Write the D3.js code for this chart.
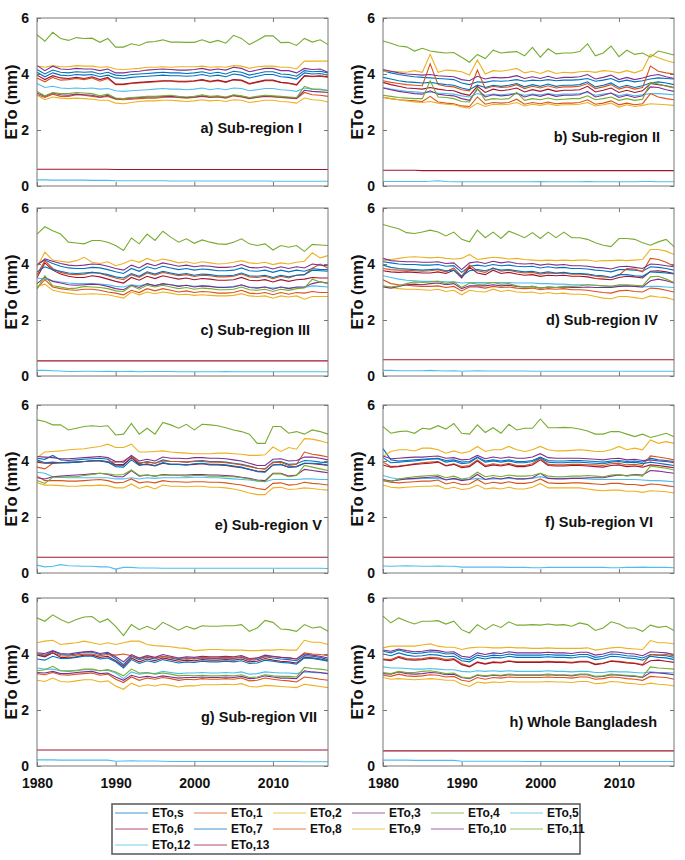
<!DOCTYPE html>
<html><head><meta charset="utf-8">
<script src="https://cdn.jsdelivr.net/npm/d3@7"></script>
<style>body{margin:0;background:#fff}svg{display:block;font-family:"Liberation Sans",Arial,sans-serif}</style>
</head><body>
<svg width="685" height="860"></svg>
<script>
// ETo in 1/100 mm, one row per series: ETo,s then ETo,1 .. ETo,13, years 1980-2017
const years=[1980,1981,1982,1983,1984,1985,1986,1987,1988,1989,1990,1991,1992,1993,1994,1995,1996,1997,1998,1999,2000,2001,2002,2003,2004,2005,2006,2007,2008,2009,2010,2011,2012,2013,2014,2015,2016,2017]
const seriesNames=["ETo,s","ETo,1","ETo,2","ETo,3","ETo,4","ETo,5","ETo,6","ETo,7","ETo,8","ETo,9","ETo,10","ETo,11","ETo,12","ETo,13"]
const panelTitles=["a) Sub-region I","b) Sub-region II","c) Sub-region III","d) Sub-region IV","e) Sub-region V","f) Sub-region VI","g) Sub-region VII","h) Whole Bangladesh"]
const yTicks=[0,2,4,6]
const xTicks=[1980,1990,2000,2010]

const subRegionI=[
[416,400,414,406,404,408,406,408,400,406,396,394,398,400,402,404,406,404,404,402,404,408,402,406,400,410,406,396,402,408,408,400,398,392,412,408,410,404],
[386,372,388,378,380,384,380,386,374,384,362,362,366,368,370,372,374,374,372,372,374,378,372,376,370,380,376,364,370,376,376,370,366,360,392,390,392,388],
[428,424,430,426,426,430,428,428,424,426,418,416,418,420,424,424,426,424,426,426,426,428,424,426,424,430,428,420,426,428,428,424,424,418,446,446,446,446],
[430,412,428,418,416,420,418,418,412,418,404,404,408,410,414,416,418,416,414,414,416,420,414,418,414,424,420,408,414,420,420,412,412,404,420,416,418,406],
[540,517,549,527,520,530,527,528,513,527,496,496,508,502,514,516,522,514,514,513,513,522,512,520,510,538,527,505,520,536,536,512,513,502,527,514,522,505],
[366,352,356,350,348,350,348,350,346,348,340,338,340,342,344,346,348,346,346,344,346,350,344,348,344,350,348,340,344,348,348,344,342,338,350,346,346,342],
[396,380,394,386,384,388,384,390,380,388,364,364,368,370,372,374,376,376,374,374,376,380,374,378,372,380,378,366,372,378,378,370,368,362,394,392,394,390],
[406,390,404,396,394,398,396,398,390,396,386,384,388,390,392,394,396,394,394,392,394,398,392,396,390,400,396,386,392,398,398,390,388,382,404,400,402,396],
[326,316,328,320,320,326,324,320,316,320,310,308,310,312,314,314,316,318,316,314,316,320,316,318,314,322,318,312,316,320,318,316,314,312,334,326,324,320],
[324,308,318,314,312,314,312,310,306,306,296,294,298,302,304,304,306,306,304,302,304,308,304,306,302,308,306,298,302,306,306,302,300,296,314,308,306,300],
[332,320,332,326,324,328,326,324,318,324,312,312,314,316,318,318,320,320,318,316,318,322,318,320,316,324,320,314,318,322,320,318,316,314,342,338,336,334],
[338,322,334,330,330,334,332,330,322,328,314,312,316,318,320,320,322,324,320,318,320,326,320,322,318,326,322,316,320,324,322,320,318,316,356,346,344,340],
[22,22,21,21,21,21,21,20,20,20,19,19,19,19,19,19,19,18,18,18,18,18,18,18,18,18,18,18,18,18,17,17,17,17,17,17,17,17],
[60,60,60,60,60,60,60,60,60,60,59,59,59,59,59,59,59,59,59,59,59,59,59,59,59,59,59,59,59,59,59,59,59,59,59,59,59,59]]

const subRegionII=[
[412,404,398,394,390,388,386,384,382,380,368,362,372,370,376,374,376,380,374,378,376,380,376,378,378,380,384,374,378,384,372,378,372,376,382,386,384,382],
[376,370,366,362,360,358,436,362,356,354,344,340,414,348,356,352,354,362,348,356,350,358,350,354,354,356,366,348,354,362,346,354,346,352,428,410,404,400],
[410,410,408,406,412,406,470,406,414,412,408,396,450,400,412,410,414,420,404,410,402,412,402,406,404,408,410,406,412,410,404,412,404,414,470,458,448,440],
[416,410,404,400,398,396,398,394,392,390,380,376,392,382,388,386,388,394,384,390,384,392,384,388,388,390,398,382,388,396,380,388,380,386,394,398,390,384],
[518,510,500,497,482,492,482,478,475,477,460,442,470,455,485,475,478,480,465,495,460,490,472,475,475,480,508,465,475,500,462,485,470,475,460,482,475,468],
[352,346,342,338,336,334,336,332,330,328,322,318,330,324,328,326,328,330,324,328,326,330,326,328,328,330,334,324,328,332,322,328,322,326,330,330,328,326],
[370,362,356,350,348,346,352,346,342,340,330,324,356,334,346,340,344,350,336,344,338,346,338,342,342,344,356,336,342,350,334,342,334,340,366,362,358,352],
[388,382,376,372,370,368,370,366,362,360,350,344,360,352,360,356,360,366,354,362,356,364,356,360,360,362,372,354,360,368,352,360,352,358,368,372,368,362],
[316,312,308,306,304,302,320,300,296,294,286,284,318,292,298,296,298,310,292,298,294,300,294,296,296,298,308,292,296,304,290,296,290,294,330,318,312,308],
[318,312,308,304,300,298,302,296,292,290,282,278,296,284,292,290,292,298,286,292,288,294,288,290,290,292,298,286,290,296,282,290,284,288,294,292,290,288],
[350,344,338,334,330,328,340,328,324,322,312,306,346,318,326,322,324,332,318,326,320,328,320,324,324,326,338,318,324,332,316,324,316,322,354,352,344,338],
[324,320,316,314,312,312,376,318,316,312,302,300,350,306,312,310,312,334,306,312,308,314,308,310,312,312,322,308,312,318,306,312,306,310,370,364,356,350],
[16,16,16,16,16,16,17,19,16,15,15,15,15,15,15,15,15,15,15,15,16,15,15,15,15,15,16,15,15,15,15,15,15,16,16,15,15,15],
[56,56,56,56,56,55,55,55,55,55,55,55,55,55,55,55,55,55,55,55,55,55,55,55,55,55,55,55,55,55,55,55,55,55,55,55,55,55]]

const subRegionIII=[
[398,414,402,392,386,384,384,388,386,380,372,366,384,374,390,382,392,386,380,384,378,382,380,376,376,378,386,376,374,378,370,378,372,378,374,384,380,380],
[362,412,384,370,364,362,364,370,366,358,350,344,362,352,368,360,370,364,358,362,356,360,358,354,354,356,364,354,352,356,348,356,350,360,362,385,400,385],
[390,442,414,410,406,412,424,406,402,408,394,402,414,406,420,410,418,412,404,408,402,408,404,400,402,406,412,404,402,406,398,404,400,406,410,440,422,430],
[396,418,410,402,396,394,396,400,398,392,384,378,396,386,402,394,404,398,392,396,390,394,392,388,388,390,398,388,386,390,382,390,384,390,386,400,396,394],
[507,533,519,507,478,475,472,484,484,478,466,448,493,472,507,484,517,496,478,490,474,486,478,472,470,478,490,472,466,472,450,466,460,466,445,470,468,466],
[350,346,340,336,332,330,330,330,328,326,320,318,326,322,328,324,328,326,322,324,320,322,320,318,318,320,324,318,316,318,314,318,314,316,316,322,320,318],
[352,404,378,364,356,352,352,358,354,346,338,332,352,342,356,348,358,352,346,350,344,348,346,342,342,344,352,342,340,344,336,344,338,344,346,352,350,350],
[372,390,380,374,368,366,368,370,368,362,354,350,366,356,372,364,374,368,362,366,360,364,362,358,358,360,368,358,356,360,352,360,354,360,362,378,376,374],
[314,344,318,312,308,306,310,310,306,300,296,290,306,298,312,304,312,306,300,304,298,302,300,296,296,298,306,296,294,298,290,298,292,298,296,302,298,298],
[320,328,306,300,296,292,292,294,292,290,284,278,300,290,300,294,300,296,290,292,288,290,288,286,286,288,294,286,284,286,278,286,282,286,274,284,284,284],
[330,352,338,332,326,324,326,328,326,320,312,308,324,316,330,322,330,326,320,324,318,322,320,316,316,318,326,316,314,318,310,318,312,318,318,330,336,332],
[310,358,322,318,312,314,320,318,316,312,304,302,322,310,324,318,324,318,312,316,310,314,312,308,308,310,318,308,306,310,302,310,306,312,314,346,336,330],
[20,20,19,18,16,16,17,17,16,17,16,16,17,15,16,16,16,16,15,15,15,15,15,15,16,15,15,15,15,15,15,15,15,15,15,15,15,15],
[54,54,54,54,54,54,54,54,54,54,54,54,54,54,54,54,54,54,54,54,54,54,54,54,54,54,54,54,54,54,54,54,54,54,54,54,54,54]]

const subRegionIV=[
[408,404,400,398,398,396,396,398,392,394,370,392,396,392,398,394,396,392,390,392,386,390,386,388,384,384,382,378,376,372,380,380,378,374,390,388,384,378],
[384,380,378,378,376,374,376,380,372,386,356,396,376,370,386,374,378,372,368,370,364,368,366,368,364,364,362,356,354,352,360,384,382,372,420,416,406,392],
[412,416,420,424,426,424,422,424,420,418,420,434,416,420,424,422,418,420,416,414,412,414,412,414,412,414,414,410,412,412,414,412,414,416,452,452,446,434],
[420,412,410,408,408,406,406,408,402,404,380,404,408,402,410,404,408,402,400,402,396,400,396,398,394,394,392,388,386,382,390,392,388,384,400,398,394,390],
[541,533,526,512,509,514,521,514,500,514,488,479,521,494,514,491,517,506,494,512,491,514,494,514,494,494,488,476,467,462,491,491,488,476,467,479,488,462],
[358,352,346,342,340,338,338,338,336,336,332,334,334,334,334,334,334,332,332,332,330,330,328,328,326,326,326,324,322,320,322,322,320,318,320,320,318,316],
[376,372,370,372,370,368,368,372,366,378,350,388,368,362,378,366,370,364,360,362,356,360,358,360,356,356,354,348,346,344,352,356,354,350,374,376,372,366],
[396,388,384,382,380,378,380,382,376,378,356,376,380,376,384,378,380,376,372,374,368,372,368,370,366,366,364,360,358,352,362,362,358,356,372,370,368,364],
[344,330,326,324,322,320,320,322,316,320,304,318,318,314,320,316,318,314,312,314,308,312,310,312,308,308,306,302,298,296,304,306,302,300,314,312,306,300],
[322,316,312,310,310,308,306,310,302,306,290,306,302,300,310,302,306,300,298,300,294,298,294,296,292,292,290,284,278,276,284,284,280,276,286,282,280,272],
[318,314,320,326,328,326,330,332,326,330,312,322,322,322,326,322,324,320,318,320,314,318,316,318,316,316,318,316,316,316,320,322,320,318,340,346,340,332],
[322,318,322,330,336,334,336,338,330,336,316,332,328,328,334,328,330,322,318,320,314,318,316,320,320,322,326,324,322,320,326,326,324,322,354,356,346,334],
[20,20,19,19,19,19,20,19,18,19,17,18,19,18,18,18,18,18,18,17,17,17,17,17,17,17,17,17,17,17,17,17,17,17,17,17,17,17],
[58,58,58,58,58,58,58,58,58,58,58,58,58,58,58,58,58,58,58,58,58,58,58,58,58,58,58,58,58,58,58,58,58,58,58,58,58,58]]

const subRegionV=[
[410,406,420,404,402,404,406,408,410,406,386,384,412,390,398,392,404,398,398,396,400,402,398,398,396,392,388,382,374,372,396,398,388,390,402,400,396,394],
[378,372,392,394,394,396,398,402,402,398,396,400,418,394,396,392,400,398,398,396,398,398,396,396,394,390,386,380,374,372,394,396,384,388,432,424,420,414],
[412,432,434,436,440,442,444,448,452,460,448,448,460,432,432,434,436,432,430,428,426,426,426,428,428,426,424,420,420,422,450,434,448,442,480,478,472,464],
[416,414,412,408,408,410,412,414,416,412,398,396,420,400,406,400,414,410,410,408,412,412,410,410,408,404,400,392,384,384,406,408,400,402,414,414,410,404],
[547,541,529,529,511,517,523,526,523,526,493,496,534,496,517,496,538,529,517,531,511,531,529,526,519,511,505,496,463,463,523,523,499,505,496,511,505,496],
[360,356,344,342,340,340,340,340,340,340,336,336,340,336,340,338,340,340,340,340,342,342,340,340,338,336,334,332,328,326,334,334,334,334,336,336,334,334],
[396,392,392,394,396,396,398,400,400,396,386,388,412,386,388,382,392,388,388,386,388,390,386,386,384,380,376,370,364,362,386,388,378,380,392,390,388,384],
[404,394,396,394,394,396,398,400,402,396,380,378,404,384,390,384,394,388,388,386,390,392,388,388,386,382,378,370,362,360,386,388,378,380,392,392,390,386],
[346,330,330,330,328,328,330,332,334,330,322,324,336,322,326,322,330,326,326,324,326,326,324,324,322,318,314,308,302,298,320,322,314,316,324,320,318,314],
[322,314,314,312,310,310,312,312,314,312,304,304,318,302,310,300,314,310,310,308,310,310,306,306,304,300,294,286,280,280,304,306,298,300,304,302,298,296],
[340,336,344,346,348,350,352,354,356,352,344,344,366,346,350,346,352,350,350,350,352,352,350,350,348,346,342,338,332,330,356,356,346,350,370,366,362,358],
[330,320,342,342,344,344,348,352,356,354,350,352,368,348,350,346,350,348,348,346,348,348,346,346,344,344,340,336,330,326,354,354,344,348,384,378,372,366],
[28,22,24,30,26,25,24,24,22,22,14,20,20,18,18,18,17,17,17,17,17,17,17,17,17,17,17,17,17,17,17,17,17,17,17,17,17,16],
[56,56,56,56,56,56,56,56,56,56,56,56,56,56,56,56,56,56,56,56,56,56,56,56,56,56,56,56,56,56,56,56,56,56,56,56,56,56]]

const subRegionVI=[
[444,404,400,402,404,406,408,410,402,404,396,398,414,400,404,400,404,398,398,402,414,402,400,400,402,402,400,398,396,400,402,398,400,396,410,404,402,398],
[396,380,382,386,390,394,396,398,384,390,380,384,404,384,390,386,392,384,384,390,410,388,386,386,388,388,386,386,384,390,392,386,388,384,418,414,410,404],
[416,434,440,440,436,446,446,440,428,436,428,434,452,434,440,440,452,440,434,440,452,440,436,436,438,440,438,434,434,440,452,440,446,440,475,463,469,463],
[418,408,410,412,414,414,416,418,410,412,404,406,420,408,414,410,414,410,410,414,426,412,410,410,410,410,408,406,404,408,410,404,406,402,404,400,398,394],
[523,499,505,507,499,517,514,526,514,534,499,496,529,502,519,499,531,511,517,517,550,519,519,520,519,514,507,496,496,505,505,496,487,496,484,491,499,487],
[348,340,336,336,336,338,338,338,334,336,334,334,338,334,336,336,338,336,336,338,344,338,338,338,338,338,336,334,334,334,334,334,334,332,330,330,328,326],
[386,378,380,384,388,390,392,396,382,388,376,380,400,380,386,382,388,380,380,386,404,384,382,382,384,384,382,380,378,384,386,380,382,378,386,384,380,376],
[412,394,396,398,400,404,406,408,396,400,390,394,412,396,400,396,400,394,394,398,412,396,394,394,396,396,394,392,390,396,398,394,396,390,396,392,388,384],
[330,324,322,324,326,328,328,332,318,324,316,318,334,318,324,320,326,320,320,324,336,322,320,320,322,322,320,318,316,320,320,316,316,312,318,316,312,308],
[314,306,304,306,308,310,310,312,300,306,298,302,314,300,304,300,306,300,300,306,320,304,304,304,304,304,300,296,294,296,296,292,292,288,294,292,290,286],
[334,328,332,336,338,340,342,344,332,338,330,334,352,334,340,336,342,336,336,340,356,338,336,336,338,338,340,340,340,346,350,348,352,350,366,364,360,356],
[332,326,336,340,344,346,348,350,340,346,336,340,360,344,348,344,350,346,346,348,356,346,344,344,346,346,348,346,344,350,352,346,350,346,382,378,374,368],
[25,24,25,26,25,24,24,25,24,24,21,21,21,21,21,21,20,20,20,19,19,20,20,20,20,20,20,20,20,19,19,20,20,21,20,20,20,19],
[56,56,56,56,56,56,56,56,56,56,56,56,56,56,56,56,56,56,56,56,56,56,56,56,56,56,56,56,56,56,56,56,56,56,56,56,56,56]]

const subRegionVII=[
[400,396,410,398,396,400,406,406,398,402,384,362,392,380,388,382,392,386,380,384,382,386,384,384,386,384,388,378,380,390,386,382,380,376,394,392,388,380],
[398,394,404,394,392,396,400,400,394,398,396,400,394,384,390,386,392,388,384,386,384,388,386,386,388,386,390,380,384,392,390,388,386,382,404,400,398,394],
[440,446,449,434,437,440,446,440,434,440,434,440,446,446,434,430,428,426,422,420,412,414,416,416,414,414,414,412,412,414,414,416,414,414,449,442,442,434],
[404,402,412,402,400,404,408,410,402,406,390,372,398,386,394,388,398,392,386,390,388,392,390,390,392,390,394,384,386,396,392,388,386,382,400,396,392,386],
[529,517,540,523,511,523,532,534,513,525,499,466,505,487,499,487,513,499,485,499,489,501,499,499,501,501,505,481,493,520,513,489,487,481,505,493,497,481],
[350,346,346,340,340,342,344,344,340,342,332,312,336,328,332,330,338,334,330,332,332,334,332,332,334,332,336,328,330,336,334,332,332,330,336,334,332,330],
[396,390,404,388,386,390,396,396,388,392,376,356,386,372,382,376,386,380,374,378,376,380,378,378,380,378,382,372,374,384,378,374,372,368,388,386,382,376],
[382,378,392,384,384,388,392,392,382,386,372,350,380,366,376,370,380,374,368,372,370,374,372,372,374,372,376,366,368,378,374,370,368,364,386,384,380,374],
[330,326,334,326,324,328,330,332,324,328,310,298,318,306,314,310,316,312,306,310,308,312,310,310,312,310,314,304,306,314,310,306,304,300,318,314,310,306],
[306,302,314,302,300,304,308,308,300,304,286,274,296,284,290,286,292,288,282,286,286,290,290,290,292,290,294,284,282,288,286,284,282,280,292,288,284,280],
[334,332,338,330,330,334,336,338,330,332,318,306,324,316,320,316,322,318,314,316,316,318,316,316,318,316,320,312,314,322,318,314,314,312,340,336,334,330],
[340,344,356,340,338,340,346,346,340,344,336,322,346,332,334,328,332,328,322,324,322,324,322,322,324,322,326,316,318,326,322,320,320,318,352,348,346,342],
[22,22,22,21,21,21,21,21,21,21,17,18,19,18,18,18,17,16,16,16,16,16,16,16,16,16,16,16,16,16,16,16,16,16,15,15,15,15],
[57,57,57,57,57,57,57,57,57,57,57,57,57,57,57,57,57,57,57,57,57,57,57,57,57,57,57,57,57,57,57,57,57,57,57,57,57,57]]

const wholeBangladesh=[
[410,404,414,406,402,404,408,406,400,402,384,380,396,390,396,394,400,396,396,396,396,398,396,396,394,398,398,388,392,400,398,394,392,386,398,396,394,388],
[382,380,392,384,382,384,388,386,380,384,366,356,372,366,372,370,376,372,372,372,372,374,372,372,370,374,374,364,368,376,374,370,368,362,398,396,398,394],
[422,428,428,428,428,432,436,428,424,424,416,422,424,424,422,422,424,422,422,420,420,422,420,420,420,420,422,414,418,422,424,420,418,416,448,440,440,436],
[414,410,418,412,408,410,414,412,406,408,392,388,404,398,404,402,408,404,404,404,404,406,404,404,402,406,406,396,400,408,406,402,400,394,408,406,404,398],
[535,511,529,517,507,517,517,519,507,517,487,475,505,487,505,495,515,503,503,505,503,507,503,505,499,511,505,484,493,515,507,493,493,481,503,495,499,484],
[354,350,350,348,346,346,348,346,344,344,338,336,340,338,340,338,340,338,338,338,338,340,338,338,336,338,338,334,334,338,336,336,334,332,336,334,334,332],
[380,376,388,380,378,380,384,382,376,380,362,354,370,364,370,368,374,370,370,370,370,372,370,370,368,372,372,362,366,374,372,368,366,360,376,378,374,370],
[400,394,404,396,392,394,398,396,390,392,376,372,388,382,388,386,392,388,388,388,388,390,388,388,386,390,390,380,384,392,390,386,384,378,392,388,386,380],
[324,320,328,322,320,322,326,324,318,320,306,302,316,310,316,314,318,316,316,316,316,318,316,316,314,318,318,310,312,318,316,312,310,306,320,318,316,310],
[316,310,312,310,308,310,312,310,306,306,292,284,300,296,300,298,302,300,300,300,300,302,300,300,298,302,302,294,296,302,300,296,294,290,296,292,290,286],
[330,328,336,330,328,330,334,332,326,328,316,312,324,320,324,322,326,324,324,324,324,326,324,324,322,326,326,318,320,326,324,322,320,316,334,332,330,326],
[334,330,338,334,334,338,340,336,330,332,318,314,326,322,326,324,328,326,326,326,326,328,326,326,324,328,328,320,322,328,326,324,322,318,354,350,348,346],
[21,21,21,21,20,20,20,20,20,20,17,17,17,17,17,17,17,17,16,16,16,16,16,16,16,16,16,16,16,16,16,16,16,16,16,16,16,16],
[54,54,54,54,54,54,54,54,54,54,54,54,54,54,54,54,54,54,54,54,54,54,54,54,54,54,54,54,54,54,54,54,54,54,54,54,54,54]]

const panels=[subRegionI,subRegionII,subRegionIII,subRegionIV,subRegionV,subRegionVI,subRegionVII,wholeBangladesh]
// matlab default line colours, cycled
const colors=["#0072BD","#D95319","#EDB120","#7E2F8E","#77AC30","#4DBEEE","#A2142F"]

const svg=d3.select("svg")
const colX=[37,383],rowY=[18,208,405,598],W=291,H=168
// right end / middle of each panel caption, px inside the panel
const titlePos=[[265,110],[277,119],[273,122],[275,112],[285,120],[270,117],[280,119],[274,124]]

panels.forEach((rows,k)=>{
const col=k%2,row=Math.floor(k/2)
const g=svg.append("g").attr("transform",`translate(${colX[col]},${rowY[row]})`)
const x=d3.scaleLinear().domain([1980,2017]).range([0,W])
const y=d3.scaleLinear().domain([0,6]).range([H,0])
const line=d3.line().x((d,i)=>x(years[i])).y(d=>y(d/100))
rows.forEach((s,i)=>{
g.append("path").datum(s).attr("d",line).attr("fill","none").attr("stroke",colors[i%7]).attr("stroke-width",1.1)
})
// box with ticks pointing in, like matlab
g.append("g").attr("transform",`translate(0,${H})`)
.call(d3.axisBottom(x).tickValues(xTicks).tickSize(-4).tickPadding(12).tickFormat(row==3?d3.format("d"):""))
g.append("g").call(d3.axisTop(x).tickValues(xTicks).tickSize(-4).tickFormat(""))
g.append("g").call(d3.axisLeft(y).tickValues(yTicks).tickSize(-4).tickPadding(8).tickFormat(d3.format("d")))
g.append("g").attr("transform",`translate(${W},0)`).call(d3.axisRight(y).tickValues(yTicks).tickSize(-4).tickFormat(""))
g.selectAll(".domain").remove()
g.selectAll(".tick line").attr("stroke","#777")
g.selectAll(".tick text").attr("font-size",14).attr("font-weight","bold").attr("fill","#111").attr("font-family",'"Liberation Sans",Arial,sans-serif')
g.append("rect").attr("width",W).attr("height",H).attr("fill","none").attr("stroke","#777")
g.append("text").attr("transform",`translate(-26,${H/2}) rotate(-90)`).attr("text-anchor","middle").attr("dy","0.35em")
.attr("font-size",16.5).attr("font-weight","bold").attr("fill","#111").text("ETo (mm)")
g.append("text").attr("x",titlePos[k][0]).attr("y",titlePos[k][1]).attr("dy","0.35em").attr("text-anchor","end")
.attr("font-size",14.5).attr("font-weight","bold").attr("fill","#111").text(panelTitles[k])
})

// legend, 6 per row
const lg=svg.append("g")
lg.append("rect").attr("x",112).attr("y",804).attr("width",468).attr("height",50).attr("fill","#fff").attr("stroke","#555").attr("stroke-width",1.5)
seriesNames.forEach((n,i)=>{
const c=i%6,r=Math.floor(i/6)
const lx=115+c*79,ly=813+r*16
lg.append("line").attr("x1",lx).attr("x2",lx+33).attr("y1",ly).attr("y2",ly).attr("stroke",colors[i%7]).attr("stroke-opacity",0.5).attr("stroke-width",1.5)
lg.append("text").attr("x",lx+37).attr("y",ly).attr("dy","0.35em").attr("font-size",12).attr("font-weight","bold").attr("fill","#111").text(n)
})
</script>
</body></html>
